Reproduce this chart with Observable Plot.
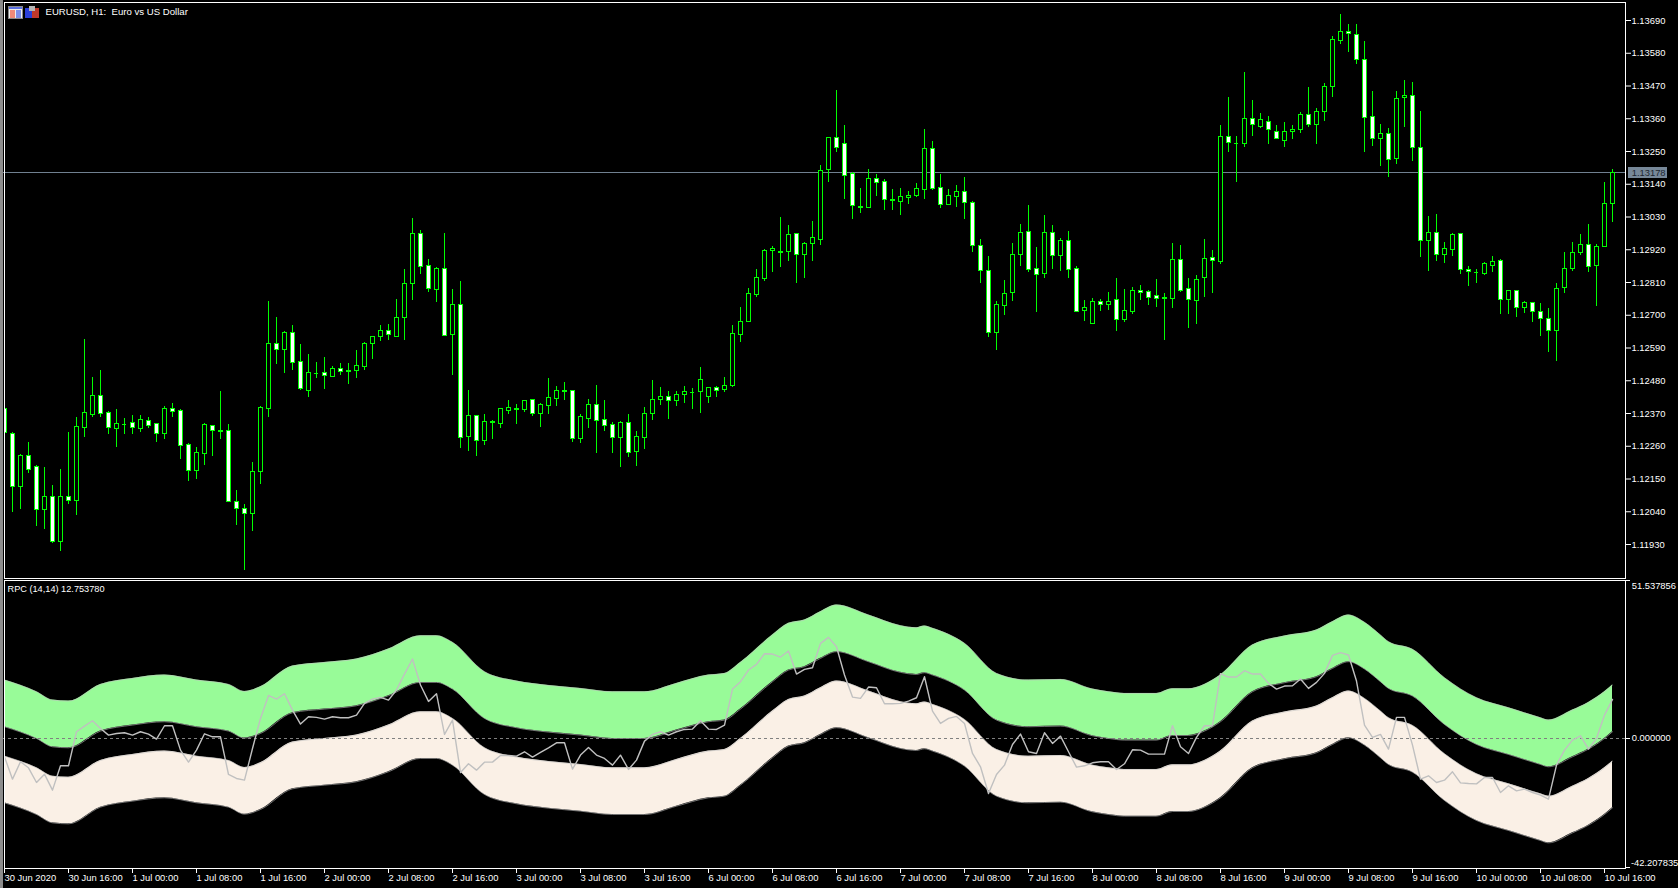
<!DOCTYPE html>
<html><head><meta charset="utf-8">
<script src="https://cdn.jsdelivr.net/npm/d3@7"></script>
<script src="https://cdn.jsdelivr.net/npm/@observablehq/plot@0.6"></script>
<style>
html,body{margin:0;padding:0;background:#000}
#chart{position:relative;width:1678px;height:888px;background:#000;overflow:hidden}
#chart>div{position:absolute;left:0}
#edge{top:0;width:3px;height:888px;background:#8c8c8c}
#icons{left:8px!important;top:6px}
</style></head><body>
<div id="chart">
<div id="main" style="top:0"></div>
<div id="sub" style="top:578px"></div>
<div id="edge"></div>
<div id="icons"><svg width="34" height="13" style="display:block"><rect x=".5" y=".5" width="14" height="12" fill="#eee" stroke="#888"/><rect x="1" y="1" width="13" height="2" fill="#5a6fe0"/><rect x="2" y="4" width="5" height="8" fill="#f08a78"/><rect x="8" y="4" width="5" height="8" fill="#7d8fe8"/><rect x="17" y="2" width="7" height="10" fill="#2b3fd8"/><rect x="24" y="2" width="7" height="10" fill="#c0392b"/><rect x="21" y="0" width="6" height="5" fill="#b5b5b5"/></svg></div>
</div>
<script>
// Prices are in points: 112345 means 1.12345
const open = [112384,112300,112124,112226,112189,112045,112088,111939,112088,112077,112322,112366,112428,112371,112319,112334,112337,112319,112344,112334,112302,112384,112377,112263,112178,112235,112327,112311,112310,112072,112048,112031,112172,112384,112602,112582,112639,112542,112447,112505,112505,112494,112518,112513,112512,112527,112602,112626,112646,112628,112690,112804,112972,112864,112786,112857,112635,112733,112292,112360,112278,112343,112335,112379,112386,112381,112414,112369,112396,112419,112446,112444,112285,112352,112397,112347,112333,112288,112337,112241,112288,112369,112414,112427,112413,112431,112441,112443,112426,112454,112450,112463,112635,112678,112769,112823,112915,112913,112913,112972,112901,112938,112954,113189,113294,113274,113174,113064,113061,113156,113146,113088,113081,113095,113101,113122,113260,113129,113071,113098,113113,113076,112934,112850,112641,112732,112775,112903,112978,112854,112839,112975,112900,112951,112854,112715,112671,112743,112735,112750,112685,112712,112783,112777,112763,112758,112755,112884,112787,112749,112824,112891,112878,113298,113277,113274,113358,113333,113350,113314,113286,113314,113321,113371,113338,113382,113466,113620,113650,113640,113556,113365,113291,113308,113224,113429,113435,113261,112951,112975,112901,112918,112972,112851,112844,112840,112867,112881,112750,112780,112723,112740,112710,112689,112646,112790,112857,112908,112935,112864,112928,113072];
const high = [112393,112307,112233,112273,112196,112187,112129,112182,112307,112358,112617,112492,112516,112377,112384,112354,112362,112362,112355,112334,112392,112405,112384,112268,112256,112337,112327,112445,112334,112110,112066,112206,112394,112747,112693,112646,112666,112602,112569,112542,112559,112529,112539,112539,112582,112609,112626,112666,112670,112754,112854,113025,112986,112888,112861,112973,112788,112814,112447,112360,112368,112348,112388,112412,112400,112415,112414,112404,112489,112462,112475,112444,112368,112417,112464,112414,112341,112344,112368,112310,112391,112481,112459,112444,112444,112462,112455,112523,112459,112462,112492,112666,112727,112791,112852,112921,112932,113027,113000,112972,112945,113016,113204,113297,113456,113339,113180,113127,113188,113174,113157,113124,113127,113114,113141,113324,113282,113174,113124,113136,113161,113082,112956,112898,112746,112818,112941,113005,113067,112928,113035,113000,112958,112982,112864,112751,112756,112753,112777,112824,112787,112793,112800,112783,112820,112773,112941,112934,112824,112834,112953,112916,113336,113430,113299,113517,113420,113379,113366,113338,113349,113336,113382,113466,113393,113477,113637,113709,113678,113675,113618,113453,113342,113326,113453,113487,113483,113383,113033,113040,112946,112973,112972,112865,112854,112878,112899,112888,112783,112780,112747,112744,112740,112723,112807,112911,112945,112972,113006,112938,113147,113191];
const low = [112298,112037,112049,112167,111992,111979,111935,111905,112063,112029,112288,112355,112358,112301,112257,112298,112301,112305,112321,112271,112281,112358,112214,112143,112150,112197,112227,112284,112072,111995,111841,111975,112133,112358,112533,112506,112516,112446,112425,112489,112452,112492,112499,112469,112486,112513,112550,112613,112614,112624,112614,112748,112838,112775,112744,112631,112499,112254,112244,112227,112264,112281,112321,112365,112334,112375,112361,112324,112365,112395,112412,112274,112270,112321,112237,112311,112234,112187,112223,112193,112250,112348,112398,112351,112392,112402,112385,112371,112402,112425,112439,112459,112607,112678,112761,112815,112845,112859,112882,112805,112825,112882,112933,113147,113245,113090,113020,113043,113057,113100,113053,113053,113036,113073,113097,113090,113120,113060,113070,113063,113020,112912,112805,112626,112583,112700,112747,112865,112842,112710,112825,112852,112848,112825,112712,112680,112671,112714,112717,112647,112677,112704,112751,112734,112727,112616,112721,112778,112657,112670,112759,112774,112869,113248,113147,113262,113299,113326,113275,113289,113262,113289,113312,113329,113272,113352,113433,113611,113581,113541,113248,113268,113198,113161,113208,113332,113215,112895,112848,112882,112875,112899,112838,112798,112805,112832,112842,112701,112704,112691,112707,112674,112627,112576,112543,112773,112848,112901,112844,112731,112928,113010];
const close = [112306,112124,112226,112181,112045,112088,111939,112088,112075,112324,112371,112428,112369,112322,112334,112334,112320,112347,112329,112302,112384,112376,112260,112176,112236,112330,112310,112308,112072,112048,112031,112172,112387,112602,112582,112639,112539,112451,112505,112505,112495,112518,112508,112510,112529,112602,112626,112646,112633,112690,112804,112972,112863,112789,112854,112631,112736,112288,112360,112278,112340,112337,112384,112387,112383,112411,112369,112397,112421,112447,112443,112285,112357,112397,112346,112329,112288,112337,112238,112290,112370,112414,112427,112413,112431,112441,112441,112481,112454,112447,112461,112636,112679,112770,112824,112915,112921,112910,112968,112901,112938,112958,113186,113294,113263,113169,113068,113061,113156,113145,113088,113085,113096,113101,113123,113260,113125,113071,113099,113113,113078,112933,112849,112641,112733,112773,112904,112977,112853,112836,112975,112900,112951,112853,112712,112726,112743,112735,112743,112685,112713,112783,112775,112759,112755,112755,112884,112782,112750,112820,112888,112881,113298,113277,113277,113358,113338,113355,113321,113291,113314,113321,113371,113338,113382,113466,113623,113650,113644,113556,113361,113291,113308,113220,113425,113435,113261,112951,112975,112904,112921,112968,112851,112844,112844,112871,112878,112750,112780,112723,112740,112710,112689,112646,112787,112857,112908,112935,112861,112928,113072,113178];
const lastPrice = 113178;
const priceTicks = [113690,113580,113470,113360,113250,113140,113030,112920,112810,112700,112590,112480,112370,112260,112150,112040,111930];

const rpc = [-5.99,-13.28,-7.62,-9.58,-14.37,-11.65,-16.87,-8.93,-8.93,2.18,4.03,5.77,3.27,1.09,1.63,1.85,1.09,2.18,1.42,-0.22,4.14,4.14,-3.81,-7.73,-3.81,1.52,0.54,0.54,-11.76,-13.06,-13.61,-3.27,6.53,14.04,12.85,14.59,9.25,4.68,7.08,6.86,6.31,7.08,6.75,6.75,7.62,11.43,12.85,13.39,12.52,15.79,21.01,25.91,17.42,12.08,14.59,1.31,5.99,-11.10,-8.27,-10.34,-7.73,-7.73,-5.55,-5.55,-5.77,-4.35,-6.10,-4.57,-3.05,-1.42,-1.42,-10.02,-5.44,-2.94,-5.44,-6.53,-8.71,-5.44,-10.12,-7.08,-0.87,1.31,2.18,1.09,2.18,2.94,3.05,5.77,3.05,2.94,4.35,16.11,18.51,22.32,24.17,27.65,27.54,26.56,28.52,21.01,22.54,23.08,31.03,32.99,29.94,20.69,13.50,13.06,16.77,16.55,11.32,11.32,11.43,12.19,13.28,20.14,8.93,4.90,6.53,7.19,4.90,-4.90,-9.25,-17.96,-11.76,-8.71,-1.96,1.42,-4.35,-4.90,1.85,-1.63,0.76,-4.35,-9.36,-8.93,-7.95,-7.62,-7.62,-10.12,-8.27,-3.70,-3.81,-5.12,-5.12,-5.12,4.14,-2.72,-4.90,0.33,4.14,4.14,21.12,20.03,20.03,22.10,21.01,21.01,17.96,16.11,17.09,17.20,19.38,16.33,18.29,21.23,27.11,27.98,27.22,18.73,4.35,0.33,1.31,-3.48,6.86,6.86,-2.18,-13.28,-12.19,-14.37,-13.61,-10.89,-14.48,-14.70,-14.81,-12.74,-12.74,-17.64,-15.46,-17.09,-16.55,-17.64,-18.51,-19.81,-8.71,-3.81,-0.54,0.87,-3.48,0.00,7.62,12.75];

const bandIndex = [0,4,6,8,12,16,20,24,28,30,32,36,40,44,48,52,54,56,60,64,68,72,76,80,84,88,90,92,96,98,100,102,104,108,112,114,115,116,120,124,128,132,136,138,140,144,146,148,150,152,156,160,164,166,168,170,172,173,176,180,184,188,192,193,196,198,200,201];
const greenUpper = [19.05,15.24,12.52,12.19,17.64,19.60,20.69,19.05,17.64,15.35,16.87,23.62,24.82,25.91,29.18,33.53,33.53,31.35,21.77,18.73,17.31,16.33,15.24,15.24,17.96,20.69,21.23,24.82,33.75,37.56,38.65,41.37,43.55,40.28,36.80,36.14,36.69,35.93,31.03,21.23,19.05,19.27,16.11,15.24,14.70,14.70,16.22,16.22,17.64,20.69,30.48,33.42,35.38,38.10,40.28,37.89,33.75,31.57,29.07,19.81,13.28,10.02,6.75,5.99,9.25,11.76,15.24,17.42];
const greenLower = [3.81,0.00,-2.72,-3.05,2.40,4.36,5.45,3.81,2.40,0.11,1.63,8.38,9.58,10.67,13.94,18.29,18.29,16.11,6.53,3.49,2.07,1.09,0.00,0.00,2.72,5.45,5.99,9.58,18.51,22.32,23.41,26.13,28.31,25.04,21.56,20.90,21.45,20.69,15.79,5.99,3.81,4.03,0.87,0.00,-0.54,-0.54,0.98,0.98,2.40,5.45,15.24,18.18,20.14,22.86,25.04,22.65,18.51,16.33,13.83,4.57,-1.96,-5.22,-8.49,-9.25,-5.99,-3.48,0.00,2.18];
const linenUpper = [-5.77,-9.58,-12.30,-12.63,-7.18,-5.22,-4.13,-5.77,-7.18,-9.47,-7.95,-1.20,0.00,1.09,4.36,8.71,8.71,6.53,-3.05,-6.09,-7.51,-8.49,-9.58,-9.58,-6.86,-4.13,-3.59,0.00,8.93,12.74,13.83,16.55,18.73,15.46,11.98,11.32,11.87,11.11,6.21,-3.59,-5.77,-5.55,-8.71,-9.58,-10.12,-10.12,-8.60,-8.60,-7.18,-4.13,5.66,8.60,10.56,13.28,15.46,13.07,8.93,6.75,4.25,-5.01,-11.54,-14.80,-18.07,-18.83,-15.57,-13.06,-9.58,-7.40];
const linenLower = [-21.01,-24.82,-27.54,-27.87,-22.42,-20.46,-19.37,-21.01,-22.42,-24.71,-23.19,-16.44,-15.24,-14.15,-10.88,-6.53,-6.53,-8.71,-18.29,-21.33,-22.75,-23.73,-24.82,-24.82,-22.10,-19.37,-18.83,-15.24,-6.31,-2.50,-1.41,1.31,3.49,0.22,-3.26,-3.92,-3.37,-4.13,-9.03,-18.83,-21.01,-20.79,-23.95,-24.82,-25.36,-25.36,-23.84,-23.84,-22.42,-19.37,-9.58,-6.64,-4.68,-1.96,0.22,-2.17,-6.31,-8.49,-10.99,-20.25,-26.78,-30.04,-33.31,-34.07,-30.81,-28.30,-24.82,-22.64];
const subMax = 51.537856, subMin = -42.207835;

const timeTicks = [0,8,16,24,32,40,48,56,64,72,80,88,96,104,112,120,128,136,144,152,160,168,176,184,192,200];
const timeLabels = ["30 Jun 2020","30 Jun 16:00","1 Jul 00:00","1 Jul 08:00","1 Jul 16:00","2 Jul 00:00","2 Jul 08:00","2 Jul 16:00","3 Jul 00:00","3 Jul 08:00","3 Jul 16:00","6 Jul 00:00","6 Jul 08:00","6 Jul 16:00","7 Jul 00:00","7 Jul 08:00","7 Jul 16:00","8 Jul 00:00","8 Jul 08:00","8 Jul 16:00","9 Jul 00:00","9 Jul 08:00","9 Jul 16:00","10 Jul 00:00","10 Jul 08:00","10 Jul 16:00"];

const font = {background:"transparent",color:"#fff",fontFamily:"'Liberation Sans',sans-serif",fontSize:"9.4px"};
const bars = d3.range(open.length);
const crisp = {shapeRendering:"crispEdges"};
const GREEN = "#00ff00", SILVER = "#c0c0c0";
const xScale = {type:"linear",domain:[0,201],range:[4,1612],axis:null};
const rightEdge = 202.63, tickEnd = 203.25, labelX = 203.4;
const smooth = "monotone-x";

const mainPlot = Plot.plot({
  width:1678,height:580,marginLeft:4,marginRight:53,marginTop:2,marginBottom:2,
  style:font,
  x:xScale,
  y:{domain:[111930,113690],range:[544,20]},
  marks:[
    Plot.ruleY([lastPrice],{x1:0-1,x2:rightEdge,stroke:"#708090",...crisp}),
    Plot.ruleX(bars,{x:i=>i,y1:i=>low[i],y2:i=>high[i],stroke:GREEN,clip:"frame",...crisp}),
    Plot.rect(bars,{filter:i=>open[i]!==close[i],x1:i=>i-.25,x2:i=>i+.25,y1:i=>open[i],y2:i=>close[i],fill:i=>open[i]>close[i]?"#fff":"#000",stroke:GREEN,clip:"frame",...crisp}),
    Plot.ruleY(bars,{filter:i=>open[i]===close[i],x1:i=>i-.3,x2:i=>i+.3,y:i=>open[i],stroke:GREEN,clip:"frame",...crisp}),
    Plot.frame({stroke:"#fff",...crisp}),
    Plot.axisY({anchor:"right",ticks:priceTicks,tickSize:5,tickPadding:1,label:null,tickFormat:d=>(d/1e5).toFixed(5)}),
    Plot.ruleY([lastPrice],{x1:203.05,x2:207.9,stroke:"#778899",strokeWidth:11,...crisp}),
    Plot.text([lastPrice],{x:labelX,y:d=>d,text:d=>(d/1e5).toFixed(5),textAnchor:"start",fill:"#1c2630"}),
    Plot.text(["EURUSD, H1:  Euro vs US Dollar"],{text:d=>d,frameAnchor:"top-left",dx:41,dy:6,lineAnchor:"top",fill:"#fff",fontSize:9.6})
  ]
});
document.getElementById("main").append(mainPlot);

const subTickMark = [subMax,0,subMin];
const subPlot = Plot.plot({
  width:1678,height:310,marginLeft:4,marginRight:53,marginTop:2,marginBottom:20,
  style:font,
  x:xScale,
  y:{domain:[subMin,subMax],range:[289.3,2],axis:null},
  marks:[
    Plot.areaY(bandIndex,{x:bandIndex,y1:greenLower,y2:greenUpper,curve:smooth,fill:"#98fb98",clip:"frame"}),
    Plot.areaY(bandIndex,{x:bandIndex,y1:linenLower,y2:linenUpper,curve:smooth,fill:"#faf0e6",clip:"frame"}),
    ...[greenUpper,greenLower,linenUpper,linenLower].map(s=>Plot.lineY(s,{x:bandIndex,y:s,curve:smooth,stroke:SILVER,strokeWidth:.6,clip:"frame"})),
    Plot.ruleY([0],{x1:-1,x2:tickEnd,stroke:"#808080",strokeDasharray:"3,3",...crisp}),
    Plot.lineY(rpc,{x:bars,y:rpc,stroke:SILVER,strokeWidth:1.4,clip:"frame"}),
    Plot.frame({stroke:"#fff",...crisp}),
    Plot.ruleY(subTickMark,{x1:rightEdge,x2:tickEnd,stroke:"#fff",...crisp}),
    Plot.text([subMax],{x:labelX,y:d=>d,dy:5,text:d=>d.toFixed(6),textAnchor:"start",fill:"#fff"}),
    Plot.text([0],{x:labelX,y:d=>d,text:d=>d.toFixed(6),textAnchor:"start",fill:"#fff"}),
    Plot.text([subMin],{x:labelX-.1,y:d=>d,dy:-5,text:d=>d.toFixed(6),textAnchor:"start",fill:"#fff"}),
    Plot.text(["RPC (14,14) 12.753780"],{text:d=>d,frameAnchor:"top-left",dx:3,dy:5,lineAnchor:"top",fill:"#fff",fontSize:9.2}),
    Plot.axisX({anchor:"bottom",ticks:timeTicks,tickSize:5,tickPadding:1,label:null,textAnchor:"start",lineAnchor:"top",tickFormat:d=>timeLabels[timeTicks.indexOf(d)]})
  ]
});
document.getElementById("sub").append(subPlot);
</script></body></html>
